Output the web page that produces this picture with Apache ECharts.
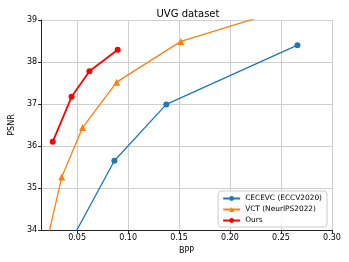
<!DOCTYPE html>
<html><head><meta charset="utf-8">
<script src="https://cdn.jsdelivr.net/npm/echarts@6/dist/echarts.min.js"></script>
<style>html,body{margin:0;padding:0;background:#fff}#c{width:349px;height:262px}</style>
</head><body><div id="c"></div>
<script>
const xTicks = [0.05, 0.10, 0.15, 0.20, 0.25, 0.30];
const yTicks = [34, 35, 36, 37, 38, 39];
const cecevcX = [0.042, 0.0866, 0.1375, 0.2661];
const cecevcY = [33.65, 35.65, 36.99, 38.40];
const vctX = [0.020, 0.035, 0.0554, 0.0888, 0.1518, 0.28];
const vctY = [33.68, 35.26, 36.44, 37.52, 38.49, 39.45];
const oursX = [0.0261, 0.0446, 0.0621, 0.0898];
const oursY = [36.10, 37.17, 37.78, 38.29];
const names = ['CECEVC (ECCV2020)', 'VCT (NeurIPS2022)', 'Ours'];

const zip = (a, b) => a.map((v, i) => [v, b[i]]);
const chart = echarts.init(document.getElementById('c'));
const font = 'DejaVu Sans';
chart.setOption({
  animation: false,
  title: { text: 'UVG dataset', left: 183, top: 4, textAlign: 'center',
    textStyle: { fontFamily: font, fontSize: 10, fontWeight: 'normal', color: '#000' } },
  grid: { left: 33, right: 17, top: 20, bottom: 32 },
  legend: {
    orient: 'vertical', right: 22, bottom: 35, padding: [4, 5, 3, 4],
    itemWidth: 17, itemHeight: 6, itemGap: 4,
    borderColor: '#ccc', borderWidth: 1, borderRadius: 3, backgroundColor: 'rgba(255,255,255,0.85)',
    textStyle: { fontFamily: font, fontSize: 7.4, color: '#000' },
    data: names
  },
  xAxis: {
    type: 'value', min: 0.0147, max: 0.30,
    name: 'BPP', nameLocation: 'middle', nameGap: 13,
    nameTextStyle: { fontFamily: font, fontSize: 8, color: '#000' },
    axisLine: { show: true, onZero: false, lineStyle: { color: '#222', width: 1 } },
    axisTick: { show: true, customValues: xTicks, length: 3, lineStyle: { color: '#222' } },
    axisLabel: { customValues: xTicks, fontFamily: font, fontSize: 8, color: '#000', margin: 4,
      formatter: v => v.toFixed(2) },
    splitLine: { show: true, lineStyle: { color: '#cfcfcf', width: 1 } }
  },
  yAxis: {
    type: 'value', min: 34, max: 39, interval: 1,
    name: 'PSNR', nameLocation: 'middle', nameGap: 24,
    nameTextStyle: { fontFamily: font, fontSize: 8, color: '#000' },
    axisLine: { show: true, lineStyle: { color: '#222', width: 1 } },
    axisTick: { show: true, length: 3, lineStyle: { color: '#222' } },
    axisLabel: { fontFamily: font, fontSize: 8, color: '#000', margin: 4 },
    splitLine: { show: true, lineStyle: { color: '#cfcfcf', width: 1 } }
  },
  series: [
    { name: names[0], type: 'line', data: zip(cecevcX, cecevcY), symbol: 'circle', symbolSize: 6,
      color: '#1f77b4', lineStyle: { width: 1.3 }, clip: true },
    { name: names[1], type: 'line', data: zip(vctX, vctY), symbol: 'triangle', symbolSize: 7,
      color: '#ff7f0e', lineStyle: { width: 1.3 }, clip: true },
    { name: names[2], type: 'line', data: zip(oursX, oursY), symbol: 'circle', symbolSize: 6,
      color: '#ff0000', lineStyle: { width: 1.8 }, clip: true }
  ]
});
</script></body></html>
